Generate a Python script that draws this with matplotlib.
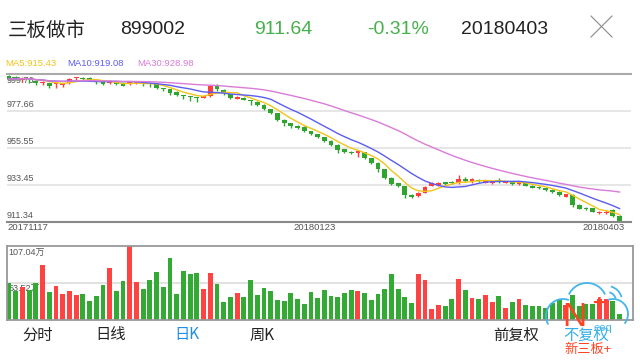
import matplotlib
matplotlib.use('Agg')
import matplotlib.pyplot as plt
import numpy as np
import pandas as pd
from matplotlib.patches import Arc

plt.rcParams['font.family'] = ['Liberation Sans', 'Noto Sans CJK SC', 'DejaVu Sans']

# daily candles 20171117 - 20180403
opens = [998.57, 997.97, 996.17, 997.37, 995.75, 994.07, 994.19, 993.47, 993.17, 994.19,
         997.37, 997.37, 997.55, 995.57, 995.15, 994.19, 994.79, 994.19, 993.59, 994.19,
         994.79, 994.19, 993.77, 991.37, 990.59, 989.15, 987.18, 986.76, 986.16, 985.56,
         986.58, 992.75, 990.17, 987.60, 984.96, 985.56, 984.18, 983.16, 981.18, 978.60,
         976.20, 972.19, 970.21, 968.78, 968.08, 965.59, 963.61, 961.81, 959.60, 957.20,
         954.62, 953.18, 952.58, 952.82, 949.23, 946.59, 942.81, 937.60, 934.24, 932.62,
         927.23, 926.63, 928.61, 932.80, 933.22, 934.72, 935.20, 934.24, 936.82, 934.84,
         936.22, 934.42, 934.42, 935.92, 934.42, 934.84, 933.64, 934.24, 932.80, 932.20,
         931.25, 930.23, 929.21, 926.21, 927.23, 921.24, 919.44, 919.26, 916.22, 916.22,
         918.24, 914.64]
highs = [999.17, 998.57, 997.97, 997.37, 996.17, 995.57, 994.37, 994.37, 994.37, 997.07,
         998.17, 997.77, 997.97, 995.57, 995.27, 995.87, 995.17, 994.37, 995.17, 995.57,
         994.79, 994.37, 994.07, 991.37, 990.77, 989.57, 987.18, 986.76, 986.16, 986.88,
         993.17, 993.77, 990.47, 987.78, 986.28, 985.80, 984.18, 983.40, 981.48, 978.78,
         976.50, 972.49, 970.51, 969.08, 968.38, 965.89, 963.91, 962.11, 959.90, 957.50,
         954.92, 953.48, 953.90, 953.12, 949.53, 946.89, 943.11, 937.90, 934.54, 932.92,
         927.53, 928.91, 932.50, 934.90, 935.20, 935.20, 935.50, 939.22, 938.02, 937.24,
         936.52, 935.92, 935.50, 937.42, 935.62, 935.14, 935.14, 934.54, 933.10, 932.50,
         931.55, 930.53, 929.51, 927.95, 927.53, 921.54, 920.04, 919.56, 917.52, 918.12,
         918.84, 914.94]
lows = [996.17, 996.17, 994.97, 994.37, 993.17, 993.17, 991.37, 991.37, 991.97, 993.77,
        996.17, 995.57, 995.27, 993.97, 993.17, 993.77, 992.97, 992.27, 993.17, 993.77,
        992.57, 991.79, 990.77, 989.57, 987.18, 986.58, 984.60, 983.76, 983.16, 985.26,
        985.98, 989.57, 987.18, 984.78, 984.48, 983.88, 981.18, 980.58, 978.00, 975.60,
        971.59, 968.60, 967.39, 966.98, 965.29, 963.01, 961.21, 959.00, 956.60, 952.58,
        952.58, 951.62, 950.18, 948.63, 945.63, 941.19, 936.64, 933.22, 932.20, 925.25,
        925.61, 925.91, 928.31, 932.50, 932.62, 933.22, 933.82, 933.94, 934.90, 934.24,
        934.90, 934.12, 933.82, 934.42, 934.12, 933.34, 933.34, 932.50, 931.30, 930.65,
        929.75, 928.61, 926.63, 925.91, 920.04, 918.66, 918.24, 916.92, 915.92, 915.62,
        914.17, 911.34]
closes = [996.77, 996.77, 997.37, 996.77, 994.19, 994.97, 992.75, 994.19, 994.19, 996.77,
          997.97, 996.77, 995.57, 994.97, 993.59, 995.57, 993.59, 992.75, 994.79, 995.15,
          994.07, 993.47, 991.19, 990.77, 988.55, 987.18, 986.58, 986.16, 985.56, 986.58,
          992.75, 990.59, 988.19, 985.20, 985.80, 984.18, 983.58, 981.18, 978.60, 976.20,
          972.19, 970.21, 968.78, 967.58, 965.59, 963.61, 961.81, 959.60, 957.20, 954.20,
          953.18, 952.22, 953.60, 949.23, 946.23, 942.63, 937.24, 933.82, 932.80, 927.23,
          926.21, 928.61, 932.20, 934.60, 934.60, 933.52, 934.24, 936.64, 935.50, 936.64,
          935.50, 935.62, 935.20, 935.62, 935.32, 933.64, 934.84, 932.80, 931.60, 931.25,
          930.05, 929.21, 927.23, 927.65, 920.94, 919.01, 918.82, 917.00, 916.74, 917.30,
          914.47, 911.64]
# volume, 万
volumes = [53.5, 40.9, 47.7, 43.3, 53.5, 79.3, 39.9, 48.7, 37.0, 40.9,
           35.0, 37.0, 26.3, 34.5, 50.1, 74.9, 41.8, 55.5, 107.04, 54.5,
           44.8, 57.4, 69.6, 47.2, 89.0, 36.5, 70.1, 66.7, 67.1, 43.8,
           67.1, 51.6, 25.3, 32.6, 38.4, 32.6, 57.9, 35.5, 45.7, 41.8,
           28.7, 27.2, 38.0, 29.2, 22.4, 39.9, 31.1, 42.3, 34.1, 32.1,
           38.4, 42.8, 40.9, 38.4, 28.2, 37.5, 43.8, 66.2, 44.3, 32.1,
           23.8, 66.2, 57.9, 15.6, 20.9, 19.9, 29.2, 58.9, 42.3, 31.6,
           30.2, 35.0, 25.3, 34.1, 16.1, 24.8, 29.2, 20.9, 19.5, 19.0,
           16.1, 23.8, 28.7, 20.4, 36.0, 19.0, 22.4, 22.4, 29.7, 30.2,
           26.3, 7.3]
price_levels = [999.76, 977.66, 955.55, 933.45, 911.34]
date_labels = ['20171117', '20180123', '20180403']
date_pos = [0, 45.6, 91]
vol_levels = [107.04, 53.52]

RED = '#ff3d3d'
GREEN = '#2fa52f'
C_MA5 = '#f2c41a'
C_MA10 = '#5c5cf0'
C_MA30 = '#d97bd9'

o = np.array(opens); h = np.array(highs); l = np.array(lows); c = np.array(closes)
x = np.arange(len(c))
up = c >= o
cols = np.where(up, RED, GREEN)

fig = plt.figure(figsize=(6.4, 3.6), dpi=100)

# ---- price panel
ax = fig.add_axes([7/640, 1 - 221.5/360, 624/640, 147.5/360])
ax.set_xlim(-0.3, 92.7)
ax.set_ylim(price_levels[-1], price_levels[0])
for lv in price_levels[1:-1]:
    ax.axhline(lv, color='#e2e2e2', lw=1.2, zorder=0)
ax.vlines(x, l, h, colors=cols, lw=1, zorder=2)
ax.bar(x, np.maximum(np.abs(c - o), 0.3), bottom=np.minimum(o, c), width=0.72,
       color=cols, linewidth=0, zorder=3)
s = pd.Series(c)
for n, col in [(5, C_MA5), (10, C_MA10), (30, C_MA30)]:
    ax.plot(x, s.rolling(n, min_periods=1).mean(), color=col, lw=1, zorder=4)
ax.set_xticks([]); ax.set_yticks([])
for side in ['left', 'right']:
    ax.spines[side].set_visible(False)
ax.spines['top'].set_color('#aaaaaa'); ax.spines['top'].set_linewidth(1.5)
ax.spines['bottom'].set_color('#888888'); ax.spines['bottom'].set_linewidth(1.5)
tr = ax.get_yaxis_transform()
ax.text(0.0, price_levels[0] - 1.2, '%.2f' % price_levels[0], transform=tr,
        fontsize=6.5, color='#555555', va='top', ha='left', zorder=1)
for lv in price_levels[1:]:
    ax.text(0.0, lv + 0.9, '%.2f' % lv, transform=tr, fontsize=6.5,
            color='#555555', va='bottom', ha='left', zorder=1)
for p, lab, ha in zip(date_pos, date_labels, ['left', 'center', 'right']):
    xx = p - 0.3 if ha == 'left' else (p + 0.7 if ha == 'right' else p)
    ax.text(xx, price_levels[-1] - 1.0, lab, fontsize=6.8, color='#555555',
            ha=ha, va='top', clip_on=False)

# ---- volume panel
av = fig.add_axes([7/640, 1 - 319.5/360, 626/640, 73.8/360])
av.set_xlim(-0.3, 93.0)
av.set_ylim(0, vol_levels[0])
av.axhline(vol_levels[1], color='#dddddd', lw=1.2, zorder=0)
av.bar(x, volumes, width=0.72, color=np.where(up, '#ff4242', '#33aa33'),
       linewidth=0, zorder=2)
av.set_xticks([]); av.set_yticks([])
for sp in av.spines.values():
    sp.set_color('#999999'); sp.set_linewidth(1.3)
av.text(0.002, 0.96, '%.2f万' % vol_levels[0], transform=av.transAxes,
        fontsize=6.5, color='#555555', va='top', ha='left', zorder=1)
av.text(0.002, vol_levels[1] - 3, '%.2f万' % vol_levels[1],
        transform=av.get_yaxis_transform(), fontsize=6.5, color='#555555',
        va='top', ha='left', zorder=1)

# ---- header, legend, tabs, logo (pixel overlay)
ov = fig.add_axes([0, 0, 1, 1], zorder=10)
ov.set_xlim(0, 640); ov.set_ylim(360, 0); ov.axis('off')

hy = 30
ov.text(8, hy, '三板做市', fontsize=14, color='#222222', va='center', ha='left',
        family=['Noto Sans CJK SC'])
ov.text(153, hy, '899002', fontsize=14, color='#222222', va='center', ha='center')
ov.text(283, hy, '911.64', fontsize=14, color='#46b04a', va='center', ha='center')
ov.text(398, hy, '-0.31%', fontsize=14, color='#46b04a', va='center', ha='center')
ov.text(505, hy, '20180403', fontsize=14, color='#222222', va='center', ha='center')
ov.plot([591, 612], [16, 37], color='#8a8a8a', lw=0.8)
ov.plot([612, 591], [16, 37], color='#8a8a8a', lw=0.8)

ma_last = [s.rolling(n).mean().iloc[-1] for n in (5, 10, 30)]
for xx, n, v, col in zip([5, 67, 137], (5, 10, 30), ma_last, [C_MA5, C_MA10, C_MA30]):
    ov.text(xx, 64, 'MA%d:%.2f' % (n, v), fontsize=6.8, color=col, va='center', ha='left')

tabs = [('分时', 38, '#222222'), ('日线', 111, '#222222'), ('日K', 187, '#1e8ee6'),
        ('周K', 262, '#222222'), ('前复权', 516, '#222222'), ('不复权', 586, '#35aee8')]
for t, xx, col in tabs:
    ov.text(xx, 335, t, fontsize=11, color=col, va='center', ha='center',
            family=['Noto Sans CJK SC', 'Liberation Sans'])

# logo watermark
lc = '#45b6ea'
ov.add_patch(Arc((563, 316), 34, 34, theta1=150, theta2=290, color=lc, lw=1.3))
ov.add_patch(Arc((587, 303), 40, 40, theta1=205, theta2=335, color=lc, lw=1.3))
ov.add_patch(Arc((613, 314), 30, 30, theta1=250, theta2=400, color=lc, lw=1.3))
ov.add_patch(Arc((607, 301), 18, 18, theta1=285, theta2=345, color=lc, lw=1.3))
ov.add_patch(Arc((607, 301), 30, 30, theta1=285, theta2=345, color=lc, lw=1.3))
ov.text(574, 318, 'N', fontsize=24, color='#ff4422', va='center', ha='center')
ov.text(599, 304, '+', fontsize=16, color='#ff4422', va='center', ha='center',
        fontweight='bold')
ov.text(603, 328, 'eeq', fontsize=8, color=lc, va='center', ha='center')
ov.text(588, 349, '新三板+', fontsize=9.5, color='#ff4422', va='center', ha='center',
        family=['Noto Sans CJK SC', 'Liberation Sans'])

fig.savefig('out.png', dpi=100)
